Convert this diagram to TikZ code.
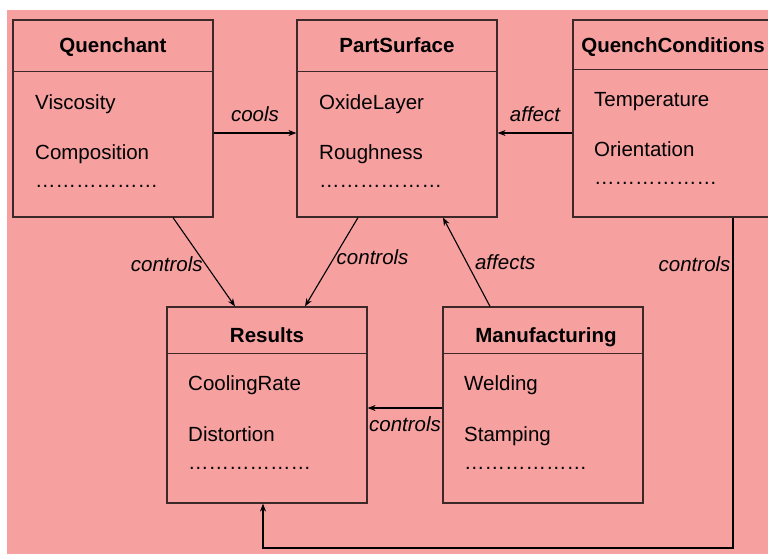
\documentclass[tikz,border=0pt]{standalone}
\usepackage{fontspec}
\setmainfont{Liberation Sans}
\usetikzlibrary{arrows.meta,positioning}
\definecolor{bgpink}{RGB}{246,160,160}
\definecolor{boxline}{RGB}{60,40,40}
\tikzset{
  classbox/.style={draw=boxline, line width=1.2pt, minimum width=200pt, inner sep=0pt},
  headrule/.style={draw=boxline, line width=1pt},
  classname/.style={font=\fontsize{20.5}{24}\selectfont\bfseries, anchor=base, inner sep=0pt},
  attr/.style={font=\fontsize{20.5}{24}\selectfont, anchor=base west, inner sep=0pt},
  link/.style={draw=black, line width=1.1pt, -{Stealth[length=8pt,width=6pt]}},
  linklabel/.style={font=\fontsize{20.5}{24}\selectfont\itshape, inner sep=2pt}
}

\begin{document}
\begin{tikzpicture}[x=1pt, y=-1pt]
  \useasboundingbox (0,0) rectangle (768,554);
  \clip (0,0) rectangle (768,554);
  \fill[bgpink] (7,10) rectangle (768,554);

  % top row
  \node[classbox, minimum height=197pt] (quench) at (113,118.5) {};
  \draw[headrule] ([yshift=-52pt]quench.north west) -- ([yshift=-52pt]quench.north east);
  \node[classname] (quenchT) at (113,52) {Quenchant};
  \node[attr] (visc) at (35,109) {Viscosity};
  \node[attr] (comp) at (35,159) {Composition};
  \node[attr] (quenchD) at (35,187) {………………};

  \node[classbox, minimum height=197pt] (part) at (397,118.5) {};
  \draw[headrule] ([yshift=-52pt]part.north west) -- ([yshift=-52pt]part.north east);
  \node[classname] (partT) at (397,52) {PartSurface};
  \node[attr] (oxide) at (319,109) {OxideLayer};
  \node[attr] (rough) at (319,159) {Roughness};
  \node[attr] (partD) at (319,187) {………………};

  \node[classbox, minimum height=197pt] (cond) at (673,118.5) {};
  \draw[headrule] ([yshift=-50pt]cond.north west) -- ([yshift=-50pt]cond.north east);
  \node[classname] (condT) at (673,52) {QuenchConditions};
  \node[attr] (temp) at (594,106) {Temperature};
  \node[attr] (orient) at (594,156) {Orientation};
  \node[attr] (condD) at (594,184) {………………};

  % bottom row
  \node[classbox, minimum height=196pt] (results) at (267,405) {};
  \draw[headrule] ([yshift=-47pt]results.north west) -- ([yshift=-47pt]results.north east);
  \node[classname] (resultsT) at (267,342) {Results};
  \node[attr] (rate) at (188,390) {CoolingRate};
  \node[attr] (dist) at (188,441) {Distortion};
  \node[attr] (resultsD) at (188,469) {………………};

  \node[classbox, minimum height=196pt] (manuf) at (543,405) {};
  \draw[headrule] ([yshift=-47pt]manuf.north west) -- ([yshift=-47pt]manuf.north east);
  \node[classname] (manufT) at (546,342) {Manufacturing};
  \node[attr] (weld) at (464,390) {Welding};
  \node[attr] (stamp) at (464,441) {Stamping};
  \node[attr] (manufD) at (464,469) {………………};

  % associations
  \draw[link] ([yshift=-14.5pt]quench.east) -- node[linklabel, above=9pt] {cools} ([yshift=-14.5pt]part.west);
  \draw[link] ([yshift=-14.5pt]cond.west) -- node[linklabel, above=9pt] {affect} ([yshift=-14.5pt]part.east);
  \draw[link] ([xshift=60pt]quench.south) -- node[linklabel, left, pos=0.52] {controls} ([xshift=-32pt]results.north);
  \draw[link] ([xshift=-39pt]part.south) -- node[linklabel, right, pos=0.45] {controls} ([xshift=38pt]results.north);
  \draw[link] ([xshift=-53pt]manuf.north) -- node[linklabel, right=6pt, pos=0.5] {affects} ([xshift=46pt]part.south);
  \draw[link] ([yshift=-3pt]manuf.west) -- node[linklabel, below=6pt] {controls} ([yshift=-3pt]results.east);
  \coordinate (turn) at (733,548);
  \draw[link] ([xshift=60pt]cond.south) -- node[linklabel, left, pos=0.14] {controls} (turn) -| ([xshift=-4pt]results.south);
\end{tikzpicture}
\end{document}
